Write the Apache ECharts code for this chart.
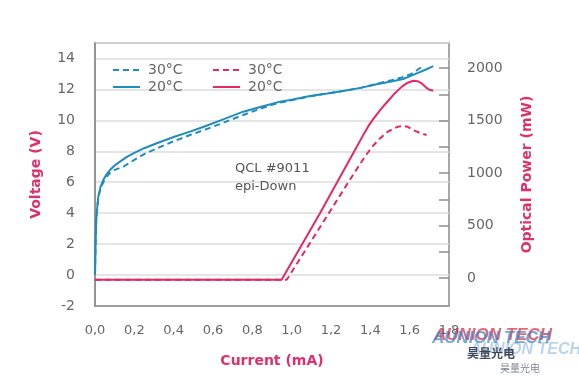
<!DOCTYPE html>
<html>
<head>
<meta charset="utf-8">
<script src="https://cdn.jsdelivr.net/npm/echarts@6/dist/echarts.min.js"></script>
<style>
html,body{margin:0;padding:0;background:#fff;}
#chart{width:579px;height:379px;}
</style>
</head>
<body>
<div id="chart"></div>
<script>
// ---- data ----
const xTicks = [0, 0.2, 0.4, 0.6, 0.8, 1.0, 1.2, 1.4, 1.6, 1.8];
const voltTicks = [-2, 0, 2, 4, 6, 8, 10, 12, 14];
const powerTickMarks = [0, 250, 500, 750, 1000, 1250, 1500, 1750, 2000];
const powerTickLabels = [0, 500, 1000, 1500, 2000];

const v20Current = [0, 0.003, 0.006, 0.009, 0.013, 0.017, 0.028, 0.042, 0.058, 0.076, 0.1, 0.127, 0.16, 0.195, 0.25, 0.314, 0.4, 0.483, 0.56, 0.635, 0.754, 0.85, 0.941, 1.0, 1.093, 1.18, 1.262, 1.35, 1.432, 1.5, 1.567, 1.6, 1.636, 1.68, 1.72];
const v20Voltage = [0, 2.0, 3.5, 4.0, 4.6, 5.07, 5.7, 6.14, 6.5, 6.79, 7.08, 7.33, 7.62, 7.87, 8.2, 8.52, 8.92, 9.27, 9.62, 9.98, 10.56, 10.9, 11.21, 11.33, 11.57, 11.73, 11.9, 12.1, 12.33, 12.5, 12.67, 12.84, 13.04, 13.27, 13.51];

const v30Current = [0, 0.003, 0.006, 0.009, 0.013, 0.017, 0.028, 0.042, 0.058, 0.076, 0.1, 0.144, 0.2, 0.25, 0.314, 0.4, 0.483, 0.56, 0.635, 0.754, 0.84, 0.924, 1.0, 1.093, 1.18, 1.262, 1.35, 1.432, 1.508, 1.56, 1.609, 1.635, 1.661];
const v30Voltage = [0, 2.0, 3.5, 4.0, 4.55, 5.0, 5.6, 6.0, 6.35, 6.6, 6.8, 7.0, 7.45, 7.82, 8.19, 8.65, 9.05, 9.4, 9.76, 10.35, 10.75, 11.1, 11.3, 11.55, 11.73, 11.9, 12.1, 12.35, 12.6, 12.78, 13.0, 13.22, 13.45];

const p20Current = [0, 0.949, 1.144, 1.322, 1.37, 1.39, 1.41, 1.43, 1.45, 1.47, 1.491, 1.525, 1.559, 1.59, 1.618, 1.64, 1.661, 1.686, 1.70, 1.72];
const p20Power = [-15, -15, 618, 1221, 1384, 1448, 1503, 1553, 1600, 1645, 1690, 1762, 1822, 1862, 1881, 1876, 1856, 1812, 1795, 1786];

const p30Current = [0, 0.975, 1.110, 1.296, 1.35, 1.38, 1.41, 1.44, 1.466, 1.49, 1.517, 1.54, 1.568, 1.59, 1.618, 1.65, 1.686];
const p30Power = [-15, -15, 385, 937, 1094, 1178, 1252, 1315, 1360, 1397, 1425, 1442, 1450, 1442, 1411, 1385, 1364];

// ---- build ----
const X_MIN = 0, X_MAX = 1.8;
const GRID_LEFT = 95, GRID_RIGHT = 130, CHART_W = 579;
const pairs = (xs, ys) => xs.map((x, i) => [x, ys[i]]);
const BLUE = '#1f8cbd';
const PINK = '#e3286b';
const TITLE = '#e0306c';
const GREY = '#666';
const AXIS = '#8c8c8c';
const FONT = 'DejaVu Sans';

// right-axis inside ticks (10px long), expressed through the x scale
const pxPerUnit = (CHART_W - GRID_LEFT - GRID_RIGHT) / (X_MAX - X_MIN);
const tickLen = 10 / pxPerUnit;
const rightTicks = powerTickMarks.map(v => [{coord: [X_MAX - tickLen, v]}, {coord: [X_MAX, v]}]);

const legendBase = {
  orient: 'vertical', top: 58, itemWidth: 27, itemHeight: 12, itemGap: 3,
  itemStyle: {opacity: 0},
  formatter: n => n.substring(2),
  textStyle: {fontFamily: FONT, fontSize: 14, color: GREY, padding: [0, 0, 0, 3]}
};

const chart = echarts.init(document.getElementById('chart'), null, {renderer: 'canvas'});
const option = {
  animation: false,
  backgroundColor: '#fff',
  textStyle: {fontFamily: FONT},
  grid: {left: GRID_LEFT, right: GRID_RIGHT, top: 43, bottom: 73, show: true, borderColor: AXIS, borderWidth: 1.5, backgroundColor: 'transparent'},
  legend: [
    Object.assign({}, legendBase, {left: 107, data: ['V 30°C', 'V 20°C']}),
    Object.assign({}, legendBase, {left: 207, data: ['P 30°C', 'P 20°C']})
  ],
  xAxis: {
    type: 'value', min: X_MIN, max: X_MAX, interval: 0.2,
    name: 'Current (mA)', nameLocation: 'middle', nameGap: 48,
    nameTextStyle: {fontFamily: FONT, fontSize: 14, fontWeight: 'bold', color: TITLE},
    axisLine: {show: true, onZero: false, lineStyle: {color: AXIS, width: 1.5}},
    axisTick: {show: false},
    splitLine: {show: false},
    axisLabel: {customValues: xTicks, margin: 18, fontSize: 13, color: GREY, fontFamily: FONT,
      formatter: v => v.toFixed(1).replace('.', ',')}
  },
  yAxis: [
    {
      type: 'value', min: -2, max: 15, interval: 2, position: 'left',
      name: 'Voltage (V)', nameLocation: 'middle', nameGap: 52, nameRotate: 90,
      nameTextStyle: {fontFamily: FONT, fontSize: 14, fontWeight: 'bold', color: TITLE},
      axisLine: {show: true, onZero: false, lineStyle: {color: AXIS, width: 1.5}},
      axisTick: {show: false},
      splitLine: {show: true, lineStyle: {color: '#dcdcdc', width: 1.5}},
      axisLabel: {customValues: voltTicks, margin: 20, fontSize: 14, color: GREY, fontFamily: FONT}
    },
    {
      type: 'value', min: -265, max: 2240, position: 'right',
      name: 'Optical Power (mW)', nameLocation: 'middle', nameGap: 71, nameRotate: 90,
      nameTextStyle: {fontFamily: FONT, fontSize: 14, fontWeight: 'bold', color: TITLE},
      axisLine: {show: false},
      axisTick: {show: false},
      splitLine: {show: false},
      axisLabel: {customValues: powerTickLabels, margin: 18, fontSize: 14, color: GREY, fontFamily: FONT,
        formatter: v => String(v)}
    }
  ],
  series: [
    {name: 'V 30°C', type: 'line', yAxisIndex: 0, data: pairs(v30Current, v30Voltage), symbol: 'none',
     lineStyle: {color: BLUE, width: 2, type: [6, 4]}, itemStyle: {color: BLUE}, z: 3},
    {name: 'V 20°C', type: 'line', yAxisIndex: 0, data: pairs(v20Current, v20Voltage), symbol: 'none',
     lineStyle: {color: BLUE, width: 2}, itemStyle: {color: BLUE}, z: 4},
    {name: 'P 30°C', type: 'line', yAxisIndex: 1, data: pairs(p30Current, p30Power), symbol: 'none',
     lineStyle: {color: PINK, width: 2, type: [6, 4]}, itemStyle: {color: PINK}, z: 3},
    {name: 'P 20°C', type: 'line', yAxisIndex: 1, data: pairs(p20Current, p20Power), symbol: 'none',
     lineStyle: {color: PINK, width: 2}, itemStyle: {color: PINK}, z: 4,
     markLine: {silent: true, symbol: 'none', animation: false, label: {show: false},
       lineStyle: {color: AXIS, width: 1.5, type: 'solid'}, emphasis: {disabled: true},
       data: rightTicks}}
  ],
  graphic: [
    {type: 'text', left: 235, top: 160, z: 10,
     style: {text: 'QCL #9011\nepi-Down', fill: '#555', font: '13px "DejaVu Sans"', lineHeight: 18}},
    {type: 'text', left: 434, top: 327, z: 20,
     style: {text: 'AUNION TECH', fill: 'rgba(214,40,60,0.7)', font: 'italic bold 17px "Liberation Sans"'}},
    {type: 'text', left: 432, top: 330, z: 21,
     style: {text: 'AUNION TECH', fill: 'rgba(60,130,200,0.7)', font: 'italic bold 17px "Liberation Sans"'}},
    {type: 'text', left: 470, top: 342, z: 19,
     style: {text: 'AUNION TECH', fill: 'rgba(60,130,200,0.35)', font: 'italic bold 16px "Liberation Sans"'}},
    {type: 'text', left: 467, top: 347, z: 22,
     style: {text: '昊量光电', fill: 'rgba(30,40,60,0.85)', font: 'bold 12px "Noto Sans CJK SC"'}},
    {type: 'text', left: 500, top: 363, z: 22,
     style: {text: '昊量光电', fill: 'rgba(30,40,60,0.6)', font: '10px "Noto Sans CJK SC"'}}
  ]
};
chart.setOption(option);
</script>
</body>
</html>
